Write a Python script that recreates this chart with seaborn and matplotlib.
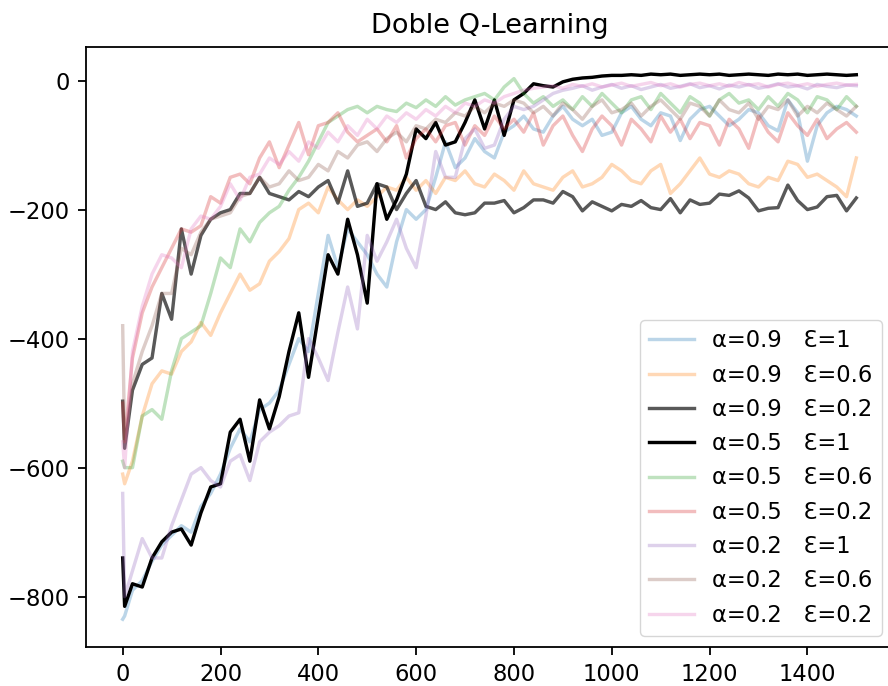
import numpy as np
import pandas as pd
import matplotlib
matplotlib.use("Agg")
import matplotlib.pyplot as plt
import seaborn as sns

# Episode grid on which the smoothed returns are tabulated
episodes = [0, 4] + list(range(20, 1501, 20))

# Smoothed return per episode for every (alpha, epsilon) setting
r_a09_e1 = [-835, -830, -790, -775, -745, -720, -705, -690, -700, -660, -640, -610, -570, -540, -560, -510,
            -500, -480, -440, -400, -420, -330, -240, -290, -230, -250, -270, -300, -320, -250, -200, -215,
            -200, -150, -95, -135, -120, -90, -110, -120, -80, -70, -55, -75, -80, -55, -40, -60,
            -70, -60, -85, -80, -50, -40, -60, -70, -50, -55, -93, -60, -45, -40, -55, -70,
            -60, -45, -50, -70, -78, -30, -50, -125, -70, -50, -40, -45, -55]
r_a09_e06 = [-610, -625, -590, -520, -470, -450, -455, -420, -405, -375, -395, -360, -330, -300, -325, -315,
             -280, -265, -245, -200, -190, -205, -165, -185, -200, -185, -195, -180, -165, -170, -150, -170,
             -155, -175, -150, -155, -140, -160, -165, -145, -155, -170, -140, -160, -165, -170, -150, -140,
             -165, -160, -150, -130, -140, -155, -160, -140, -130, -175, -160, -140, -120, -145, -150, -140,
             -145, -160, -165, -150, -155, -125, -130, -150, -145, -155, -165, -180, -120]
r_a09_e02 = [-497, -570, -480, -440, -430, -330, -370, -230, -300, -240, -215, -205, -200, -175, -175, -150,
             -175, -180, -185, -172, -180, -165, -155, -190, -140, -195, -190, -160, -165, -200, -175, -155,
             -195, -200, -188, -205, -208, -205, -190, -190, -186, -205, -197, -185, -185, -190, -172, -180,
             -202, -188, -195, -202, -192, -195, -186, -197, -200, -183, -205, -185, -192, -190, -176, -178,
             -171, -182, -202, -198, -197, -162, -186, -200, -196, -180, -178, -202, -182]
r_a05_e1 = [-740, -815, -780, -785, -740, -715, -700, -695, -720, -670, -630, -625, -545, -525, -590, -495,
            -540, -490, -420, -360, -460, -365, -270, -300, -215, -270, -345, -160, -215, -185, -145, -75,
            -90, -65, -100, -95, -65, -30, -75, -30, -85, -30, -20, -5, -8, -10, -2, 2,
            4, 5, 7, 8, 8, 9, 8, 10, 9, 10, 8, 9, 10, 9, 10, 8,
            9, 10, 9, 8, 10, 9, 10, 8, 9, 10, 9, 8, 9]
r_a05_e06 = [-590, -600, -600, -520, -510, -525, -450, -400, -390, -380, -330, -275, -290, -230, -250, -220,
             -205, -195, -170, -150, -125, -95, -65, -55, -45, -40, -50, -40, -45, -48, -35, -42,
             -30, -40, -25, -38, -30, -25, -20, -30, -10, 3, -20, -35, -25, -40, -30, -45,
             -25, -40, -20, -35, -50, -30, -25, -45, -20, -35, -50, -25, -35, -55, -30, -20,
             -35, -30, -45, -25, -40, -20, -30, -50, -25, -30, -45, -25, -40]
r_a05_e02 = [-500, -560, -430, -360, -320, -290, -260, -230, -235, -225, -180, -190, -150, -145, -160, -120,
             -95, -135, -100, -65, -115, -70, -65, -50, -80, -95, -85, -75, -95, -70, -120, -90,
             -75, -95, -70, -65, -100, -70, -85, -55, -75, -60, -80, -50, -100, -70, -55, -85,
             -110, -75, -55, -70, -100, -60, -75, -95, -55, -80, -60, -90, -65, -70, -100, -60,
             -75, -105, -55, -80, -95, -50, -70, -85, -60, -90, -75, -65, -80]
r_a02_e1 = [-640, -800, -760, -710, -740, -740, -690, -650, -610, -600, -620, -630, -590, -580, -620, -560,
            -545, -535, -520, -515, -400, -430, -465, -390, -320, -385, -240, -280, -250, -215, -260, -290,
            -210, -110, -150, -150, -90, -75, -105, -100, -60, -40, -45, -40, -30, -20, -15, -12,
            -8, -15, -10, -6, -12, -8, -14, -10, -6, -12, -9, -5, -11, -8, -13, -7,
            -10, -6, -12, -9, -5, -10, -8, -13, -6, -9, -11, -7, -8]
r_a02_e06 = [-380, -560, -470, -420, -380, -330, -330, -260, -270, -235, -215, -210, -205, -180, -175, -150,
             -165, -160, -140, -155, -150, -130, -140, -110, -120, -100, -95, -110, -90, -80, -95, -70,
             -75, -60, -65, -50, -55, -40, -50, -35, -40, -30, -35, -50, -40, -55, -35, -45,
             -60, -40, -30, -50, -45, -35, -55, -40, -30, -45, -60, -35, -40, -55, -30, -45,
             -50, -35, -60, -40, -45, -30, -55, -40, -50, -35, -45, -55, -40]
r_a02_e02 = [-560, -600, -420, -350, -300, -270, -275, -290, -230, -210, -215, -195, -160, -185, -150, -145,
             -120, -130, -110, -125, -95, -105, -80, -95, -70, -85, -60, -75, -55, -65, -50, -60,
             -45, -55, -40, -50, -35, -40, -30, -35, -25, -20, -15, -12, -10, -8, -12, -6,
             -9, -5, -10, -7, -4, -9, -6, -3, -8, -5, -10, -6, -4, -8, -5, -9,
             -3, -7, -5, -10, -6, -4, -8, -5, -9, -6, -4, -7, -6]

labels = ["α=0.9   Ɛ=1", "α=0.9   Ɛ=0.6", "α=0.9   Ɛ=0.2",
          "α=0.5   Ɛ=1", "α=0.5   Ɛ=0.6", "α=0.5   Ɛ=0.2",
          "α=0.2   Ɛ=1", "α=0.2   Ɛ=0.6", "α=0.2   Ɛ=0.2"]
series = [r_a09_e1, r_a09_e06, r_a09_e02, r_a05_e1, r_a05_e06, r_a05_e02,
          r_a02_e1, r_a02_e06, r_a02_e02]
colors = ["tab:blue", "tab:orange", "black", "black", "tab:green", "tab:red",
          "tab:purple", "tab:brown", "tab:pink"]
alphas = [0.3, 0.3, 0.65, 1.0, 0.3, 0.3, 0.3, 0.3, 0.3]

S = 1.627  # size factor for fonts and strokes
plt.rcParams.update({
    "font.family": ["DejaVu Sans"],
    "font.size": 10 * S,
    "axes.linewidth": 0.8 * S,
    "xtick.major.size": 3.5 * S,
    "ytick.major.size": 3.5 * S,
    "xtick.major.width": 0.8 * S,
    "ytick.major.width": 0.8 * S,
    "xtick.major.pad": 3.5 * S,
    "ytick.major.pad": 3.5 * S,
    "legend.fontsize": 10 * S,
})

fig = plt.figure(figsize=(8.88, 6.86), dpi=100)
ax = fig.add_axes([86 / 888, 39 / 686, (893 - 86) / 888, (647 - 47) / 686])

for vals, lab, col, a in zip(series, labels, colors, alphas):
    df = pd.DataFrame({"episode": episodes, "reward": vals})
    sns.lineplot(data=df, x="episode", y="reward", ax=ax, color=col, alpha=a,
                 linewidth=1.5 * S, label=lab)

ax.set_xlim(-75, 1575)
ax.set_ylim(-878, 52)
ax.set_xticks(range(0, 1401, 200))
ax.set_yticks([0, -200, -400, -600, -800])
ax.set_xlabel("")
ax.set_ylabel("")
ax.set_title("Doble Q-Learning", fontsize=12 * S, pad=6 * S)
ax.legend(loc="lower right", borderaxespad=0.5)

fig.savefig("out.png", dpi=100)
